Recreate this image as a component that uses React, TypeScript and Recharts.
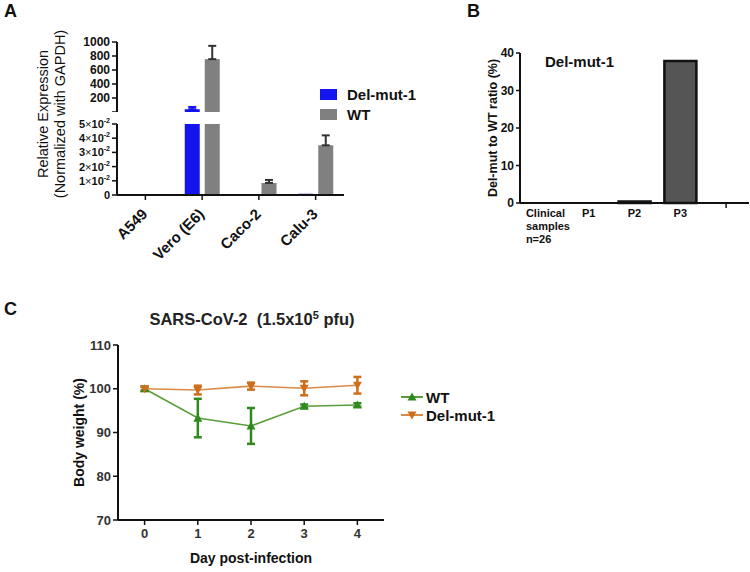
import React from 'react'
import { BarChart, Bar, LineChart, Line, XAxis, YAxis, ErrorBar, Legend } from 'recharts'

const FONT = '"Liberation Sans", Arial, Helvetica, sans-serif'
const INK = '#111'

// A: relative expression per cell line (broken y axis)
const cellLines = ['A549', 'Vero (E6)', 'Caco-2', 'Calu-3']
const delMutExpr = [0, 40, 0.0003, 0.0008]
const delMutErr = [0, 32, 0, 0]
const wtExpr = [0.0006, 755, 0.0085, 0.035]
const wtExprErr = [0, 190, 0.0021, 0.007]
const upperTicks = [0, 200, 400, 600, 800, 1000]
const lowerTicks = [0, 0.01, 0.02, 0.03, 0.04, 0.05]
const BREAK_AT = 0.05

// B: Del-mut to WT ratio by passage
const passages = ['Clinical\nsamples\nn=26', 'P1', 'P2', 'P3', '']
const delToWt = [0, 0, 0.4, 37.9, 0]
const ratioTicks = [0, 10, 20, 30, 40]

// C: body weight after infection
const days = [0, 1, 2, 3, 4]
const wtWeight = [100, 93.3, 91.5, 96.0, 96.3]
const wtWeightErr = [0.4, 4.4, 4.1, 0.4, 0.4]
const delWeight = [100, 99.7, 100.6, 100.1, 100.8]
const delWeightErr = [0.5, 1.0, 0.8, 1.6, 1.9]
const weightTicks = [70, 80, 90, 100, 110]

const BLUE = '#1414ee'
const GRAY = '#808080'
const GREEN_LINE = '#5a9e3c'
const GREEN = '#2e8a1c'
const ORANGE_LINE = '#d98a48'
const ORANGE = '#cc6e1c'

const oneSided = (v: number, e: number, upper: boolean) =>
  e > 0 && (upper ? v > BREAK_AT : v <= BREAK_AT) ? [0, e] : null

const exprRows = (upper: boolean) =>
  cellLines.map((cell, i) => ({
    cell,
    del: delMutExpr[i],
    wt: wtExpr[i],
    delErr: oneSided(delMutExpr[i], delMutErr[i], upper),
    wtErr: oneSided(wtExpr[i], wtExprErr[i], upper),
  }))

const ratioRows = passages.map((p, i) => ({ p, ratio: delToWt[i] }))

const weightRows = days.map((day, i) => ({
  day,
  wt: wtWeight[i],
  wtErr: wtWeightErr[i],
  del: delWeight[i],
  delErr: delWeightErr[i],
}))

const axisLine = { stroke: INK, strokeWidth: 2 }
const tickLine = { stroke: INK, strokeWidth: 1.5 }
const boldTick = { fontSize: 12, fontWeight: 700, fill: INK, fontFamily: FONT }

function SciTick({ x, y, payload }: any) {
  const n = Math.round(payload.value * 100)
  return (
    <text x={x} y={y} dy={4} textAnchor="end" fontFamily={FONT} fontSize={11} fontWeight={700} fill={INK}>
      {n === 0 ? (
        '0'
      ) : (
        <>
          <tspan>{n}</tspan>
          <tspan fontWeight={400}>×</tspan>
          <tspan>10</tspan>
          <tspan dy={-5} fontSize={7}>-2</tspan>
        </>
      )}
    </text>
  )
}

function CellTick({ x, y, payload }: any) {
  const ax = x + 3
  const ay = y + 13
  return (
    <text x={ax} y={ay} transform={`rotate(-45 ${ax} ${ay})`} textAnchor="end"
      fontFamily={FONT} fontSize={15} fontWeight={700} fill={INK}>
      {payload.value}
    </text>
  )
}

function PassageTick({ x, y, payload }: any) {
  const label = String(payload.value)
  if (!label) return <line x1={x} x2={x} y1={y - 7} y2={y - 2} stroke={INK} strokeWidth={1.5} />
  const lines = label.split('\n')
  const multi = lines.length > 1
  const tx = multi ? x - 17 : x
  return (
    <text x={tx} y={y + 7} textAnchor={multi ? 'start' : 'middle'}
      fontFamily={FONT} fontSize={11} fontWeight={700} fill={INK}>
      {lines.map((l, i) => (
        <tspan key={i} x={tx} dy={i === 0 ? 0 : 13}>{l}</tspan>
      ))}
    </text>
  )
}

function ExprLabel() {
  const style = { fontFamily: FONT, fontSize: 14.5, fill: INK }
  return (
    <g>
      <text x={48} y={114} transform="rotate(-90 48 114)" textAnchor="middle" {...style}>Relative Expression</text>
      <text x={65} y={114} transform="rotate(-90 65 114)" textAnchor="middle" {...style}>(Normalized with GAPDH)</text>
    </g>
  )
}

function tri(cx: number, cy: number, up: boolean, s = 4.5) {
  return up
    ? `M${cx},${cy - s}L${cx + s},${cy + s * 0.8}L${cx - s},${cy + s * 0.8}Z`
    : `M${cx},${cy + s}L${cx + s},${cy - s * 0.8}L${cx - s},${cy - s * 0.8}Z`
}

function ExprLegend({ payload }: any) {
  return (
    <div>
      {(payload || []).map((p: any) => (
        <div key={p.value} style={{ display: 'flex', alignItems: 'center', height: 20 }}>
          <span style={{ width: 17, height: 11, background: p.color, marginRight: 10 }} />
          <span style={{ fontSize: 15, fontWeight: 700, color: INK, fontFamily: FONT }}>{p.value}</span>
        </div>
      ))}
    </div>
  )
}

const weightOrder = ['WT', 'Del-mut-1']
const weightMarker: Record<string, string> = { WT: GREEN, 'Del-mut-1': ORANGE }

function WeightLegend({ payload }: any) {
  const items = [...(payload || [])].sort(
    (a: any, b: any) => weightOrder.indexOf(a.value) - weightOrder.indexOf(b.value),
  )
  return (
    <div>
      {items.map((p: any) => (
        <div key={p.value} style={{ display: 'flex', alignItems: 'center', height: 18 }}>
          <svg width={22} height={12}>
            <line x1={0} x2={22} y1={6} y2={6} stroke={p.color} strokeWidth={2} />
            <path d={tri(11, 6, p.value === 'WT')} fill={weightMarker[p.value]} />
          </svg>
          <span style={{ marginLeft: 3, fontSize: 15, fontWeight: 700, color: INK, fontFamily: FONT }}>{p.value}</span>
        </div>
      ))}
    </div>
  )
}

const letter = (ch: string, left: number, baseline: number) => (
  <div style={{ position: 'absolute', left, top: baseline - 15, fontSize: 18, lineHeight: '18px', fontWeight: 700, color: INK }}>
    {ch}
  </div>
)

export default function App() {
  return (
    <div style={{ position: 'absolute', left: 0, top: 0, width: 750, height: 572, background: '#fff', fontFamily: FONT, overflow: 'hidden' }}>
      {letter('A', 4, 17)}
      {letter('B', 467, 17)}
      {letter('C', 4, 315)}

      {/* A upper segment */}
      <div style={{ position: 'absolute', left: 0, top: 0 }}>
        <BarChart width={440} height={112} data={exprRows(true)} margin={{ top: 42, right: 96, bottom: 0, left: 0 }} barSize={15} barGap={5}>
          <XAxis dataKey="cell" hide />
          <YAxis width={117} domain={[0, 1000]} ticks={upperTicks} interval={0} tickFormatter={(v) => (v === 0 ? '' : String(v))}
            axisLine={axisLine} tickLine={tickLine} tickSize={5} tick={boldTick} />
          <Bar dataKey="del" fill={BLUE} isAnimationActive={false}>
            <ErrorBar dataKey="delErr" width={4} strokeWidth={2} stroke={BLUE} direction="y" isAnimationActive={false} />
          </Bar>
          <Bar dataKey="wt" fill={GRAY} isAnimationActive={false}>
            <ErrorBar dataKey="wtErr" width={4} strokeWidth={2} stroke="#333" direction="y" isAnimationActive={false} />
          </Bar>
        </BarChart>
      </div>

      {/* A lower segment */}
      <div style={{ position: 'absolute', left: 0, top: 0 }}>
        <BarChart width={440} height={285} data={exprRows(false)} margin={{ top: 124, right: 96, bottom: 0, left: 0 }} barSize={15} barGap={5}>
          <XAxis dataKey="cell" height={90} axisLine={axisLine} tickLine={tickLine} tickSize={5} tick={<CellTick />} interval={0} />
          <YAxis width={117} domain={[0, BREAK_AT]} ticks={lowerTicks} interval={0} allowDataOverflow
            axisLine={axisLine} tickLine={tickLine} tickSize={5} tick={<SciTick />} label={<ExprLabel />} />
          <Legend layout="horizontal" verticalAlign="middle" align="center" content={<ExprLegend />}
            wrapperStyle={{ left: 320, top: 84, width: 110 }} />
          <Bar dataKey="del" name="Del-mut-1" fill={BLUE} isAnimationActive={false}>
            <ErrorBar dataKey="delErr" width={4} strokeWidth={2} stroke={BLUE} direction="y" isAnimationActive={false} />
          </Bar>
          <Bar dataKey="wt" name="WT" fill={GRAY} isAnimationActive={false}>
            <ErrorBar dataKey="wtErr" width={4} strokeWidth={2} stroke="#333" direction="y" isAnimationActive={false} />
          </Bar>
        </BarChart>
      </div>

      {/* B */}
      <div style={{ position: 'absolute', left: 440, top: 0 }}>
        <BarChart width={310} height={263} data={ratioRows} margin={{ top: 53, right: 1, bottom: 0, left: 0 }} barSize={32}>
          <XAxis dataKey="p" height={60} axisLine={axisLine} tickLine={false} tickSize={5} tick={<PassageTick />} interval={0} />
          <YAxis width={80} domain={[0, 40]} ticks={ratioTicks} interval={0} axisLine={axisLine} tickLine={tickLine} tickSize={4} tickMargin={2}
            tick={{ ...boldTick, fontSize: 12 }}
            label={{ value: 'Del-mut to WT ratio (%)', angle: -90, position: 'center', dx: 13,
              style: { fontFamily: FONT, fontSize: 12.5, fontWeight: 700, fill: INK } }} />
          <Bar dataKey="ratio" fill="#555" stroke={INK} strokeWidth={2.5} isAnimationActive={false} />
        </BarChart>
      </div>
      <div style={{ position: 'absolute', left: 545, top: 54, fontSize: 15, lineHeight: '15px', fontWeight: 700, color: INK }}>
        Del-mut-1
      </div>

      {/* C */}
      <div style={{ position: 'absolute', left: 0, top: 311, width: 504, textAlign: 'center', fontSize: 16.5, lineHeight: '16px', fontWeight: 700, color: '#222' }}>
        SARS-CoV-2&nbsp; (1.5x10<span style={{ fontSize: 11, verticalAlign: 'super', lineHeight: 0 }}>5</span> pfu)
      </div>
      <div style={{ position: 'absolute', left: 0, top: 290 }}>
        <LineChart width={500} height={282} data={weightRows} margin={{ top: 55, right: 116, bottom: 0, left: 0 }}>
          <XAxis dataKey="day" type="number" domain={[-0.5, 4.5]} ticks={days} interval={0} height={52}
            axisLine={axisLine} tickLine={tickLine} tickSize={5} tickMargin={4}
            tick={{ ...boldTick, fontSize: 13, fill: '#333' }}
            label={{ value: 'Day post-infection', position: 'insideBottom', offset: 9,
              style: { fontFamily: FONT, fontSize: 14, fontWeight: 700, fill: INK } }} />
          <YAxis width={118} domain={[70, 110]} ticks={weightTicks} interval={0} axisLine={axisLine} tickLine={tickLine} tickSize={5}
            tick={{ ...boldTick, fontSize: 13, fill: '#333' }}
            label={{ value: 'Body weight (%)', angle: -90, position: 'center', dx: 20,
              style: { fontFamily: FONT, fontSize: 14, fontWeight: 700, fill: INK } }} />
          <Legend layout="horizontal" verticalAlign="middle" align="center" content={<WeightLegend />}
            wrapperStyle={{ left: 401, top: 98, width: 110 }} />
          <Line dataKey="wt" name="WT" stroke={GREEN_LINE} strokeWidth={1.6} isAnimationActive={false}
            dot={(p: any) => <path key={`wt-${p.index}`} d={tri(p.cx, p.cy, true)} fill={GREEN} />}>
            <ErrorBar dataKey="wtErr" width={4} strokeWidth={2.5} stroke={GREEN} direction="y" isAnimationActive={false} />
          </Line>
          <Line dataKey="del" name="Del-mut-1" stroke={ORANGE_LINE} strokeWidth={1.6} isAnimationActive={false}
            dot={(p: any) => <path key={`del-${p.index}`} d={tri(p.cx, p.cy, false)} fill={ORANGE} />}>
            <ErrorBar dataKey="delErr" width={4} strokeWidth={2.5} stroke={ORANGE} direction="y" isAnimationActive={false} />
          </Line>
        </LineChart>
      </div>
    </div>
  )
}
